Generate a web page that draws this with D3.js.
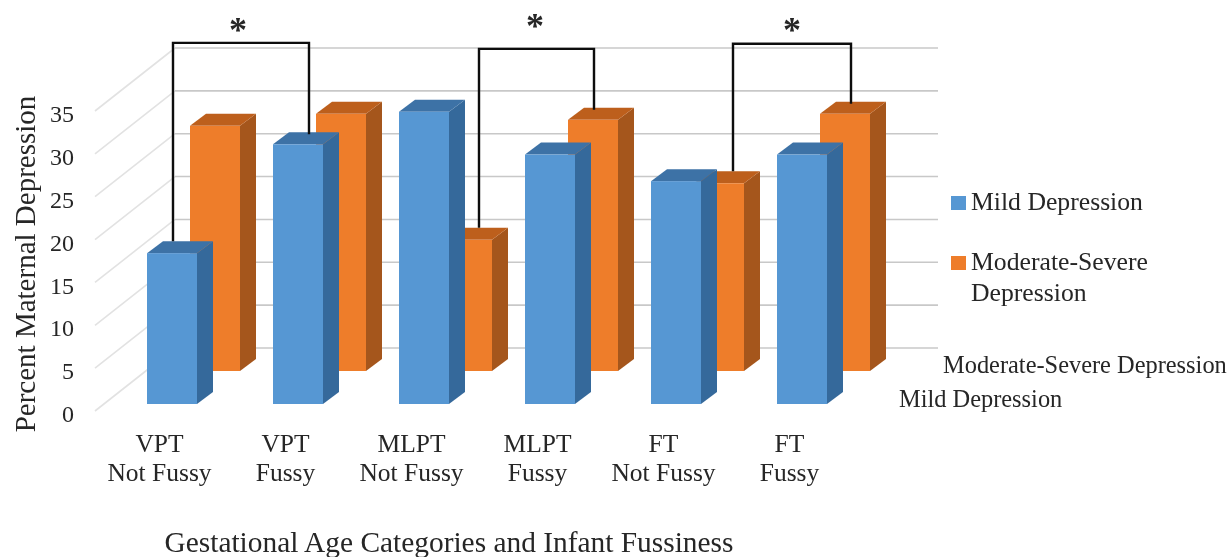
<!DOCTYPE html>
<html>
<head>
<meta charset="utf-8">
<script src="https://cdn.jsdelivr.net/npm/d3@7"></script>
<style>
  html, body { margin: 0; padding: 0; background: #fff; }
  svg { display: block; }
  text { font-family: "Liberation Serif", serif; fill: #262626; }
</style>
</head>
<body>
<div id="chart"></div>
<script>
// values
const categories = ["VPT Not Fussy", "VPT Fussy", "MLPT Not Fussy", "MLPT Fussy", "FT Not Fussy", "FT Fussy"];
const cat_line1 = ["VPT", "VPT", "MLPT", "MLPT", "FT", "FT"];
const cat_line2 = ["Not Fussy", "Fussy", "Not Fussy", "Fussy", "Not Fussy", "Fussy"];
const series_names = ["Moderate-Severe Depression", "Mild Depression"];
const mild_values = [17.6, 30.3, 34.1, 29.1, 26.0, 29.1];
const moderate_values = [28.6, 30.0, 15.3, 29.3, 21.9, 30.0];
const y_ticks = [0, 5, 10, 15, 20, 25, 30, 35];

// significance brackets: which bars they join, where across the bar top, height on the back wall
const bracket_ends = [
  { a: [0, "Mild Depression", 26], b: [1, "Mild Depression", 36], level: 35.6, star: 238, star_y: 42 },
  { a: [2, "Moderate-Severe Depression", 37], b: [3, "Moderate-Severe Depression", 26], level: 34.9, star: 535, star_y: 38 },
  { a: [4, "Moderate-Severe Depression", 39], b: [5, "Moderate-Severe Depression", 31], level: 35.5, star: 792, star_y: 42 },
];

const frame = { width: 1229, height: 557 };
const bar = { width: 50, depth_x: 16, depth_y: 12 };
const wall = { left: 175, right: 938, zero_y: 348, floor_dx: -80, floor_dy: 63 };

const colors = {
  "Mild Depression": { front: "#5797d3", side: "#36699b", top: "#3d72a6" },
  "Moderate-Severe Depression": { front: "#ee7d2c", side: "#a5561c", top: "#bd5f1b" },
};

const svg = d3.select("#chart").append("svg")
  .attr("width", frame.width)
  .attr("height", frame.height);

// slight softening, the source is a scanned figure
const defs = svg.append("defs");
defs.append("filter").attr("id", "soft")
  .append("feGaussianBlur").attr("stdDeviation", 0.55);

const root = svg.append("g").attr("filter", "url(#soft)");

var xscale = d3.scaleBand(categories, [147, 827]).paddingInner(1 - 50 / 126).paddingOuter(0);
var yscale = d3.scaleLinear([0, 35], [0, -300]);   // height above a floor line
var series_dx = d3.scalePoint(["Mild Depression", "Moderate-Severe Depression"], [0, 43]);
var series_floor = d3.scalePoint(["Mild Depression", "Moderate-Severe Depression"], [404, 371]);

// back wall gridlines and the faint diagonals on the side wall
root.append("g").selectAll("line")
  .data(y_ticks)
  .join("line")
  .attr("x1", wall.left)
  .attr("x2", wall.right)
  .attr("y1", d => wall.zero_y + yscale(d))
  .attr("y2", d => wall.zero_y + yscale(d))
  .style("stroke", "#c8c8c8")
  .style("stroke-width", 1.6);

root.append("g").selectAll("line")
  .data(y_ticks)
  .join("line")
  .attr("x1", wall.left)
  .attr("x2", wall.left + wall.floor_dx)
  .attr("y1", d => wall.zero_y + yscale(d))
  .attr("y2", d => wall.zero_y + yscale(d) + wall.floor_dy)
  .style("stroke", "#e2e2e2")
  .style("stroke-width", 1.6);

function bar_top(cat_i, name) {
  const vals = name === "Mild Depression" ? mild_values : moderate_values;
  return series_floor(name) + yscale(vals[cat_i]);
}

function draw_series(name, values) {
  const g = root.append("g").attr("class", "series");
  const c = colors[name];
  const x0 = (d, i) => xscale(categories[i]) + series_dx(name);
  const floor = series_floor(name);

  // side face
  g.selectAll("polygon.side").data(values).join("polygon")
    .attr("class", "side")
    .attr("fill", c.side)
    .attr("points", (d, i) => {
      const r = x0(d, i) + bar.width, t = floor + yscale(d);
      return [[r, t], [r + bar.depth_x, t - bar.depth_y], [r + bar.depth_x, floor - bar.depth_y], [r, floor]].join(" ");
    });

  // top face
  g.selectAll("polygon.top").data(values).join("polygon")
    .attr("class", "top")
    .attr("fill", c.top)
    .attr("points", (d, i) => {
      const l = x0(d, i), t = floor + yscale(d);
      return [[l, t], [l + bar.depth_x, t - bar.depth_y], [l + bar.width + bar.depth_x, t - bar.depth_y], [l + bar.width, t]].join(" ");
    });

  // front face
  g.selectAll("rect").data(values).join("rect")
    .attr("fill", c.front)
    .attr("x", x0)
    .attr("y", d => floor + yscale(d))
    .attr("width", bar.width)
    .attr("height", d => -yscale(d));
}

draw_series("Moderate-Severe Depression", moderate_values);
draw_series("Mild Depression", mild_values);

// brackets
const bracket_path = d => {
  const ax = xscale(categories[d.a[0]]) + series_dx(d.a[1]) + d.a[2];
  const bx = xscale(categories[d.b[0]]) + series_dx(d.b[1]) + d.b[2];
  const ay = bar_top(d.a[0], d.a[1]) - 12;
  const by = bar_top(d.b[0], d.b[1]) - 10;
  const top = wall.zero_y + yscale(d.level);
  return `M${ax},${ay}V${top}H${bx}V${by}`;
};

root.append("g").selectAll("path")
  .data(bracket_ends)
  .join("path")
  .attr("d", bracket_path)
  .style("fill", "none")
  .style("stroke", "#111")
  .style("stroke-width", 2.4);

root.append("g").selectAll("text")
  .data(bracket_ends)
  .join("text")
  .attr("x", d => d.star)
  .attr("y", d => d.star_y)
  .attr("text-anchor", "middle")
  .style("font-size", "36px")
  .style("font-weight", "bold")
  .text("*");

// y axis
const y_axis = root.append("g")
  .attr("transform", "translate(74, 414)")
  .call(d3.axisLeft(yscale).tickValues(y_ticks).tickSize(0).tickPadding(0));
y_axis.select(".domain").remove();
y_axis.selectAll("text")
  .style("font-family", '"Liberation Serif", serif')
  .style("font-size", "24px")
  .style("fill", "#262626");

// category labels
const cat_labels = root.append("g").selectAll("text")
  .data(categories)
  .join("text")
  .attr("text-anchor", "middle")
  .style("font-size", "25.5px");
cat_labels.append("tspan")
  .attr("x", d => xscale(d) + 12.5)
  .attr("y", 452)
  .text((d, i) => cat_line1[i]);
cat_labels.append("tspan")
  .attr("x", d => xscale(d) + 12.5)
  .attr("y", 481)
  .text((d, i) => cat_line2[i]);

// axis titles
root.append("text").text("Percent Maternal Depression")
  .attr("transform", "translate(35, 264) rotate(-90)")
  .attr("text-anchor", "middle")
  .style("font-size", "29px");

root.append("text").text("Gestational Age Categories and Infant Fussiness")
  .attr("x", 449)
  .attr("y", 552)
  .attr("text-anchor", "middle")
  .style("font-size", "29.4px");

// legend
const legend_rows = [
  { name: "Mild Depression", lines: ["Mild Depression"], y: 196 },
  { name: "Moderate-Severe Depression", lines: ["Moderate-Severe", "Depression"], y: 256 },
];
const legend = root.append("g").selectAll("g")
  .data(legend_rows)
  .join("g");
legend.append("rect")
  .attr("x", 951)
  .attr("y", d => d.y)
  .attr("width", 15)
  .attr("height", 14)
  .attr("fill", d => colors[d.name].front);
legend.selectAll("text")
  .data(d => d.lines.map((t, i) => ({ t: t, y: d.y + 14 + i * 31 })))
  .join("text")
  .attr("x", 971)
  .attr("y", d => d.y)
  .style("font-size", "25.7px")
  .text(d => d.t);

// depth axis labels
root.append("g").selectAll("text")
  .data(series_names)
  .join("text")
  .attr("x", d => series_floor(d) === 371 ? 943 : 899)
  .attr("y", d => series_floor(d) === 371 ? 373 : 407)
  .style("font-size", "24.4px")
  .text(d => d);
</script>
</body>
</html>
